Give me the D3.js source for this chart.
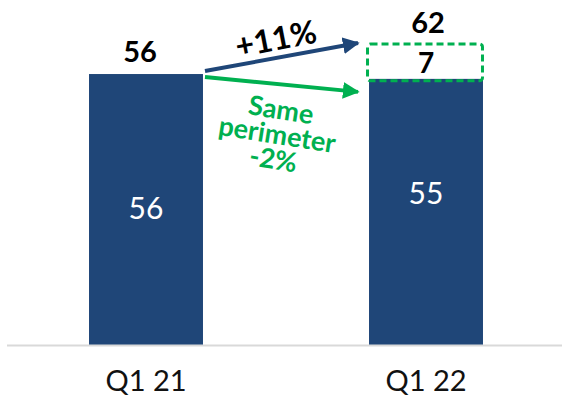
<!DOCTYPE html>
<html>
<head>
<meta charset="utf-8">
<script src="https://cdn.jsdelivr.net/npm/d3@7"></script>
<style>
  html, body { margin: 0; padding: 0; background: #fff; }
  svg { display: block; font-family: Lato, "Open Sans", sans-serif; }
</style>
</head>
<body>
<svg id="chart" width="562" height="398"></svg>
<script>
// Data
const categories = ['Q1 21', 'Q1 22'];
const baseValues = [56, 55];        // solid bars
const perimeterValues = [0, 7];     // dashed segment (new perimeter)
const totalLabels = ['56', '62'];
const growthLabel = '+11%';
const samePerimeterLabel = ['Same', 'perimeter', '-2%'];

const blue = '#1f4678';
const green = '#00b050';

const svg = d3.select('#chart');
const width = 562, height = 398;
const baseline = 345;

const xScale = d3.scaleBand()
    .domain(categories)
    .range([6, 566])
    .paddingInner(0.593)
    .paddingOuter(0.2965);

const yScale = d3.scaleLinear()
    .domain([0, 62])
    .range([baseline, 45]);

const bw = xScale.bandwidth();

// Solid bars
svg.selectAll('.bar')
    .data(categories)
    .enter().append('rect')
    .attr('class', 'bar')
    .attr('x', d => xScale(d))
    .attr('y', (d, i) => yScale(baseValues[i]))
    .attr('width', bw)
    .attr('height', (d, i) => baseline - yScale(baseValues[i]))
    .attr('fill', blue);

// Dashed perimeter segment
categories.forEach((c, i) => {
    if (!perimeterValues[i]) return;
    const top = yScale(baseValues[i] + perimeterValues[i]);
    const bot = yScale(baseValues[i]);
    svg.append('rect')
        .attr('x', xScale(c) - 1.5)
        .attr('y', top - 1)
        .attr('width', bw + 1)
        .attr('height', bot - top + 3)
        .attr('rx', 3)
        .attr('fill', 'none')
        .attr('stroke', green)
        .attr('stroke-width', 3)
        .attr('stroke-dasharray', '7,4');
    svg.append('text')
        .attr('x', xScale(c) + bw / 2)
        .attr('y', (top + bot) / 2 + 11)
        .attr('text-anchor', 'middle')
        .attr('font-size', 28)
        .attr('font-weight', 'bold')
        .attr('fill', '#000')
        .text(perimeterValues[i]);
});

// Axis line
svg.append('line')
    .attr('x1', 7).attr('x2', width)
    .attr('y1', baseline + 0.5).attr('y2', baseline + 0.5)
    .attr('stroke', '#d9d9d9')
    .attr('stroke-width', 2);

// Category labels
const xAxis = d3.axisBottom(xScale).tickSize(0).tickPadding(25);
const ax = svg.append('g')
    .attr('transform', `translate(0,${baseline})`)
    .call(xAxis);
ax.select('.domain').remove();
ax.selectAll('text')
    .attr('font-size', 29)
    .attr('font-family', 'Lato, sans-serif')
    .attr('fill', '#111');

// Values inside bars
svg.selectAll('.inner')
    .data(categories)
    .enter().append('text')
    .attr('x', d => xScale(d) + bw / 2)
    .attr('y', (d, i) => (yScale(baseValues[i]) + baseline) / 2 + 9 - (i ? 17 : 0))
    .attr('text-anchor', 'middle')
    .attr('font-size', 30)
    .attr('fill', '#fff')
    .text((d, i) => baseValues[i]);

// Totals on top
svg.selectAll('.total')
    .data(categories)
    .enter().append('text')
    .attr('x', (d, i) => xScale(d) + bw / 2 + (i ? 2 : -6))
    .attr('y', (d, i) => yScale(baseValues[i] + perimeterValues[i]) - 12)
    .attr('text-anchor', 'middle')
    .attr('font-size', 29)
    .attr('font-weight', 'bold')
    .attr('fill', '#000')
    .text((d, i) => totalLabels[i]);

// Arrows
const defs = svg.append('defs');
function marker(id, color) {
    defs.append('marker')
        .attr('id', id)
        .attr('viewBox', '0 0 10 10')
        .attr('refX', 9).attr('refY', 5)
        .attr('markerWidth', 4.2).attr('markerHeight', 4.2)
        .attr('markerUnits', 'strokeWidth')
        .attr('orient', 'auto')
        .append('path')
        .attr('d', 'M0,0 L10,5 L0,10 z')
        .attr('fill', color);
}
marker('headBlue', blue);
marker('headGreen', green);

const x0 = xScale(categories[0]) + bw + 2;
const x1 = xScale(categories[1]) - 11;
const yStart = yScale(baseValues[0]);

svg.append('line')
    .attr('x1', x0).attr('y1', yStart - 3)
    .attr('x2', x1).attr('y2', yScale(62) - 2)
    .attr('stroke', blue).attr('stroke-width', 4)
    .attr('marker-end', 'url(#headBlue)');

svg.append('line')
    .attr('x1', x0).attr('y1', yStart + 3)
    .attr('x2', x1).attr('y2', yScale(55) + 13)
    .attr('stroke', green).attr('stroke-width', 4)
    .attr('marker-end', 'url(#headGreen)');

// Growth label
svg.append('text')
    .attr('transform', 'translate(278,50) rotate(-11)')
    .attr('text-anchor', 'middle')
    .attr('font-size', 32)
    .attr('font-weight', 'bold')
    .attr('fill', '#000')
    .text(growthLabel);

// Same perimeter label
const g = svg.append('g')
    .attr('transform', 'translate(277,136) rotate(9)');
g.selectAll('text')
    .data(samePerimeterLabel)
    .enter().append('text')
    .attr('x', 0)
    .attr('y', (d, i) => -17 + i * 25)
    .attr('text-anchor', 'middle')
    .attr('font-size', 27)
    .attr('font-weight', 'bold')
    .attr('fill', green)
    .text(d => d);
</script>
</body>
</html>
